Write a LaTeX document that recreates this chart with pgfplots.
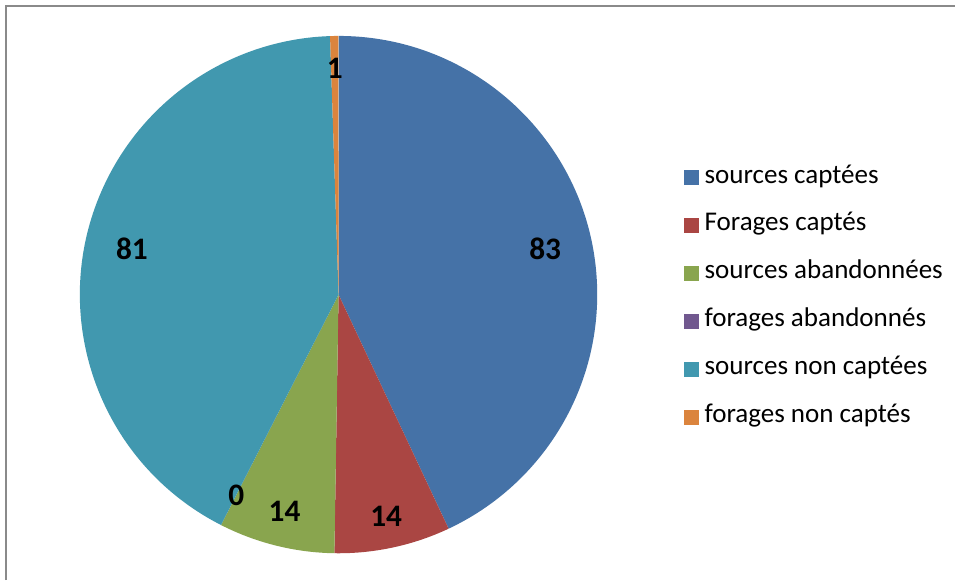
\documentclass[border=0pt]{standalone}
\usepackage{fontspec}
\setmainfont{Carlito}
\usepackage{pgfplots}
\usepackage{pgfplotstable}
\pgfplotsset{compat=1.18}

\definecolor{c1}{HTML}{4572A7}
\definecolor{c2}{HTML}{AA4643}
\definecolor{c3}{HTML}{89A54E}
\definecolor{c4}{HTML}{71588F}
\definecolor{c5}{HTML}{4198AF}
\definecolor{c6}{HTML}{DB843D}
\definecolor{cadre}{RGB}{138,138,138}

% valeurs du graphique
\pgfplotstableread{
serie valeur
1 83
2 14
3 14
4 0
5 81
6 1
}\donnees

\begin{document}
\begin{tikzpicture}
  % angles cumules (depart a 90 deg, sens horaire)
  \pgfplotstablegetelem{0}{valeur}\of\donnees \let\vA\pgfplotsretval
  \pgfplotstablegetelem{1}{valeur}\of\donnees \let\vB\pgfplotsretval
  \pgfplotstablegetelem{2}{valeur}\of\donnees \let\vC\pgfplotsretval
  \pgfplotstablegetelem{3}{valeur}\of\donnees \let\vD\pgfplotsretval
  \pgfplotstablegetelem{4}{valeur}\of\donnees \let\vE\pgfplotsretval
  \pgfplotstablegetelem{5}{valeur}\of\donnees \let\vF\pgfplotsretval
  \pgfmathsetmacro\tot{\vA+\vB+\vC+\vD+\vE+\vF}
  \pgfmathsetmacro\aA{90}
  \pgfmathsetmacro\aB{\aA-360*(\vA/\tot)}
  \pgfmathsetmacro\aC{\aB-360*(\vB/\tot)}
  \pgfmathsetmacro\aD{\aC-360*(\vC/\tot)}
  \pgfmathsetmacro\aE{\aD-360*(\vD/\tot)}
  \pgfmathsetmacro\aF{\aE-360*(\vE/\tot)}
  \pgfmathsetmacro\aG{\aF-360*(\vF/\tot)}
  \pgfmathsetmacro\mA{(\aA+\aB)/2}
  \pgfmathsetmacro\mB{(\aB+\aC)/2}
  \pgfmathsetmacro\mC{(\aC+\aD)/2}
  \pgfmathsetmacro\mD{(\aD+\aE)/2}
  \pgfmathsetmacro\mE{(\aE+\aF)/2}
  \pgfmathsetmacro\mF{(\aF+\aG)/2}
  \def\R{194.25pt}
  \begin{axis}[
      x=0.75pt, y=0.75pt,
      xmin=0, xmax=956, ymin=0, ymax=581,
      hide axis, clip=false,
      legend style={
        at={(axis cs:681,420)}, anchor=north west,
        draw=none, fill=none,
        font=\fontsize{20.3}{22}\selectfont,
        row sep=15pt,
        nodes={inner sep=1.5pt, text height=13pt, text depth=5pt},
      },
      legend cell align=left,
      legend image code/.code={
        \fill[#1] (0pt,-5.25pt) rectangle (10.5pt,5.25pt);
        \path[draw=none, fill=none] (0pt,0pt) rectangle (13.5pt,0.1pt);
      },
    ]
    \path[fill=white] (axis cs:0,0) rectangle (axis cs:956,581);
    \draw[cadre, line width=1.9pt] (axis cs:6,0) -- (axis cs:6,575) -- (axis cs:956,575);

    \addlegendimage{c1}\addlegendentry{sources captées}
    \addlegendimage{c2}\addlegendentry{Forages captés}
    \addlegendimage{c3}\addlegendentry{sources abandonnées}
    \addlegendimage{c4}\addlegendentry{forages abandonnés}
    \addlegendimage{c5}\addlegendentry{sources non captées}
    \addlegendimage{c6}\addlegendentry{forages non captés}

    \fill[c1] (axis cs:339,286) -- ++(\aA:\R) arc[start angle=\aA, end angle=\aB, radius=\R] -- cycle;
    \fill[c2] (axis cs:339,286) -- ++(\aB:\R) arc[start angle=\aB, end angle=\aC, radius=\R] -- cycle;
    \fill[c3] (axis cs:339,286) -- ++(\aC:\R) arc[start angle=\aC, end angle=\aD, radius=\R] -- cycle;
    \fill[c5] (axis cs:339,286) -- ++(\aE:\R) arc[start angle=\aE, end angle=\aF, radius=\R] -- cycle;
    \fill[c6] (axis cs:339,286) -- ++(\aF:\R) arc[start angle=\aF, end angle=\aG, radius=\R] -- cycle;

    \begin{scope}[every node/.style={font=\bfseries\fontsize{23.5}{25}\selectfont, inner sep=0pt}]
      \path (axis cs:339,286) ++(\mA:159pt) node {\vA};
      \path (axis cs:339,286) ++(\mB:170pt) node {\vB};
      \path (axis cs:339,286) ++(\mC:168pt) node {\vC};
      \path (axis cs:339,286) ++(\mD:169pt) node {\vD};
      \path (axis cs:339,286) ++(\mE:159pt) node {\vE};
      \path (axis cs:339,286) ++(\mF:170pt) node {\vF};
    \end{scope}
  \end{axis}
\end{tikzpicture}
\end{document}
